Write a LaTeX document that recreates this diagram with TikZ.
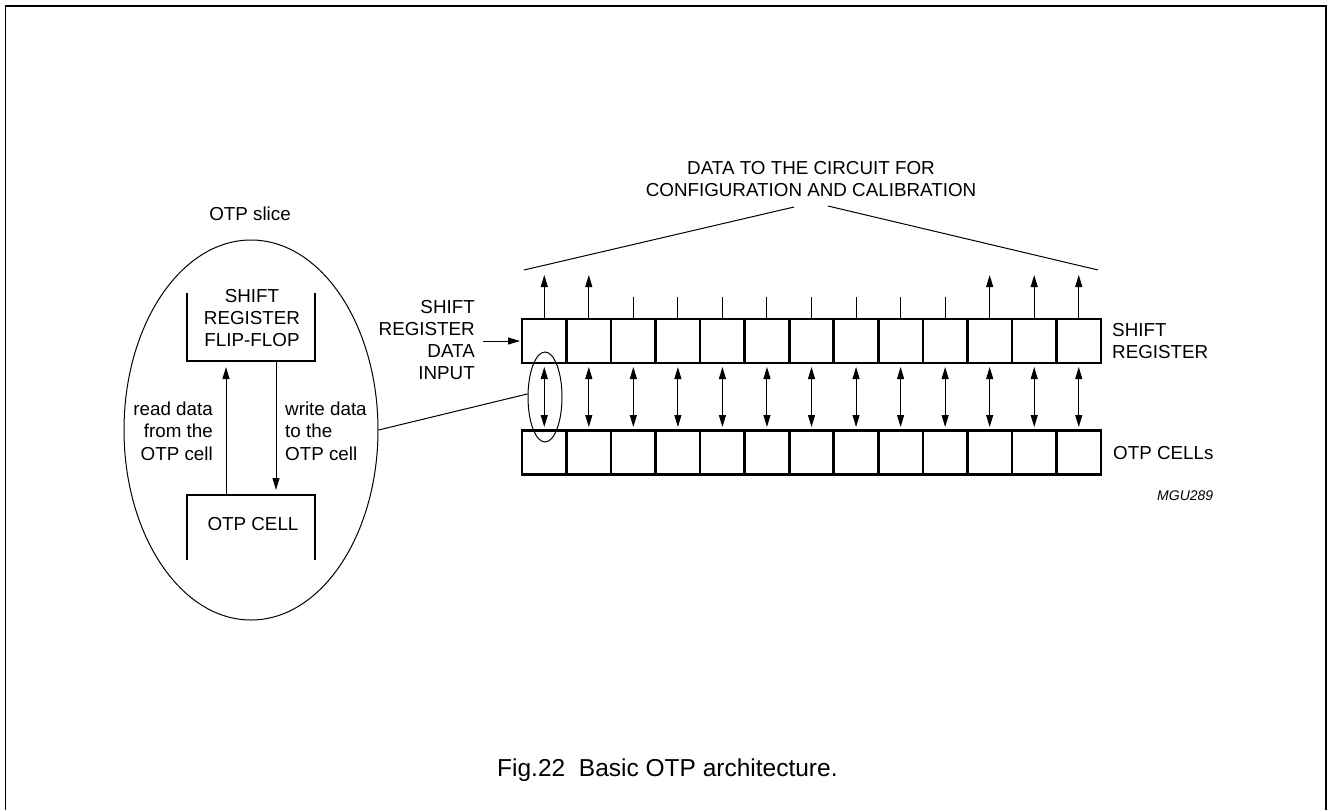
\documentclass[tikz,border=0pt]{standalone}
\usepackage{fontspec}
\setmainfont{Liberation Sans}
\usetikzlibrary{arrows.meta,shapes.geometric}
\begin{document}
\begin{tikzpicture}[x=1pt,y=-1pt,
  txt/.style={font=\fontsize{18.8}{22.3}\selectfont, inner sep=0pt},
  cell/.style={draw, line width=2.6pt, minimum width=44.54pt, minimum height=44pt, inner sep=0pt, outer sep=0pt},
  thin/.style={line width=1pt},
  arr/.style={thin, -{Triangle[length=12pt,width=7pt]}},
  darr/.style={thin, {Triangle[length=12pt,width=7pt]}-{Triangle[length=12pt,width=7pt]}},
  bracket/.style={line width=2.6pt},
  holder/.style={inner sep=0pt, outer sep=0pt},
]
\useasboundingbox (0,0) rectangle (1327,809);
\draw[line width=1.8pt] (5.5,815) -- (5.5,6) -- (1326,6) -- (1326,815);

% register rows
\foreach \i in {1,...,13}{
  \node[cell] (sr\i) at ({522+(\i-0.5)*44.54},341) {};
  \node[cell] (otp\i) at ({522+(\i-0.5)*44.54},452.5) {};
  \draw[darr, shorten <=4pt, shorten >=3.5pt] (sr\i.south) -- (otp\i.north);
}
\foreach \i in {1,2,11,12,13}{
  \path (sr\i.north) ++(0,-44) coordinate (up\i);
  \draw[arr] (sr\i.north) -- (up\i);
}
\foreach \i in {3,...,10}{
  \path (sr\i.north) ++(0,-22) coordinate (tk\i);
  \draw[thin] (sr\i.north) -- (tk\i);
}

% data input
\coordinate (inp) at (483,341);
\draw[arr, shorten >=2pt] (inp) -- (sr1.west);
\node[txt, align=right, anchor=east] (inlbl) at (475,340) {SHIFT\\REGISTER\\DATA\\INPUT};
\node[txt, align=left, anchor=west] (srlbl) at (1112,341) {SHIFT\\REGISTER};
\node[txt, anchor=base west] (otplbl) at (1113,459) {OTP CELLs};
\node[font=\fontsize{14}{16}\selectfont\itshape, inner sep=0pt, anchor=base west] (mgu) at (1157,500) {MGU289};

% title
\node[txt, align=center] (title) at (811,179) {DATA TO THE CIRCUIT FOR\\CONFIGURATION AND CALIBRATION};
\coordinate (tl) at (794,207);
\coordinate (tr) at (828,206);
\coordinate (ll) at (524,270);
\coordinate (rr) at (1098,270);
\draw[thin] (tl) -- (ll);
\draw[thin] (tr) -- (rr);

% OTP slice
\node[draw, thin, ellipse, minimum width=254pt, minimum height=380pt, inner sep=0pt] (slice) at (251,430) {};
\node[draw, thin, ellipse, minimum width=34pt, minimum height=90pt, inner sep=0pt] (zoomell) at (545,397) {};
\draw[thin] (slice.east) -- (zoomell.170);
\node[txt, anchor=base] (slicelbl) at (250,220) {OTP slice};

\node[holder, minimum width=128pt, minimum height=68pt] (ffbox) at (251,327) {};
\draw[bracket] (ffbox.north west) -- (ffbox.south west) -- (ffbox.south east) -- (ffbox.north east);
\node[txt, align=center] (fftxt) at (252,318) {SHIFT\\REGISTER\\FLIP-FLOP};

\node[holder, minimum width=128pt, minimum height=65pt] (cellbox) at (251,527.5) {};
\draw[bracket] (cellbox.south west) -- (cellbox.north west) -- (cellbox.north east) -- (cellbox.south east);
\node[txt, anchor=base] (celltxt) at (253,530) {OTP CELL};

\coordinate (rdx) at (226,0);
\coordinate (wrx) at (276,0);
\draw[arr, shorten >=6pt] (cellbox.north -| rdx) -- (ffbox.south -| rdx);
\draw[arr, shorten >=5pt] (ffbox.south -| wrx) -- (cellbox.north -| wrx);
\node[txt, align=right, anchor=east] (rdlbl) at (213,431) {read data\\from the\\OTP cell};
\node[txt, align=left, anchor=west] (wrlbl) at (285,431) {write data\\to the\\OTP cell};

% caption
\node[font=\fontsize{24.5}{28}\selectfont, inner sep=0pt, anchor=base west] (cap) at (497,776) {Fig.22\hspace{0.556em}Basic OTP architecture.};
\end{tikzpicture}
\end{document}
